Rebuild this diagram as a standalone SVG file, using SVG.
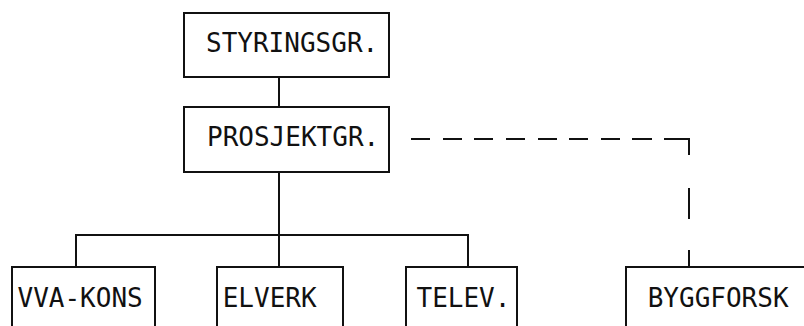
<svg xmlns="http://www.w3.org/2000/svg" width="804" height="326" viewBox="0 0 804 326">
<style>
.box{fill:#fff;stroke:#111;stroke-width:2}
.lbl{font-family:"DejaVu Sans Mono","Liberation Mono",monospace;font-size:26px;fill:#111}
.con{fill:none;stroke:#111;stroke-width:2}
</style>
<rect width="804" height="326" fill="#fff"/>
<g id="connectors">
<path class="con" d="M279 77V107 M279 172V267 M76 267V235H468V267"/>
<path class="con" d="M411 139H430 M443 139H462 M474 139H493 M506 139H525 M538 139H557 M569 139H588 M601 139H620 M632 139H652 M664 139H689V155 M689 188V219 M689 250V267"/>
</g>
<g id="styringsgr"><rect class="box" x="184" y="13" width="205" height="64"/><text class="lbl" x="206" y="52">STYRINGSGR.</text></g>
<g id="prosjektgr"><rect class="box" x="184" y="107" width="205" height="65"/><text class="lbl" x="207" y="146">PROSJEKTGR.</text></g>
<g id="vva-kons"><rect class="box" x="12" y="267" width="143" height="80"/><text class="lbl" x="17.5" y="307">VVA-KONS</text></g>
<g id="elverk"><rect class="box" x="217" y="267" width="126" height="80"/><text class="lbl" x="222.7" y="307">ELVERK</text></g>
<g id="telev"><rect class="box" x="406" y="267" width="111" height="80"/><text class="lbl" x="416.5" y="307">TELEV.</text></g>
<g id="byggforsk"><rect class="box" x="626" y="267" width="200" height="80"/><text class="lbl" x="647.7" y="307">BYGGFORSK</text></g>
</svg>
